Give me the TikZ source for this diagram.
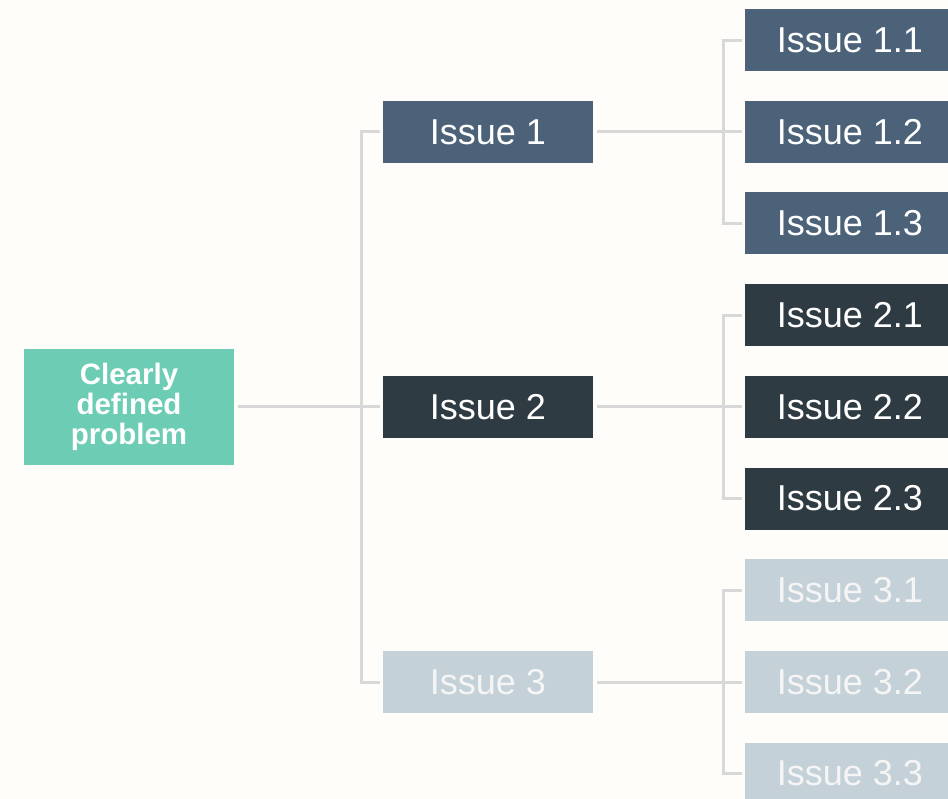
\documentclass[tikz,border=0pt]{standalone}
\usepackage{fontspec}
\setmainfont{Liberation Sans}
\definecolor{bgpaper}{HTML}{FEFDF9}
\definecolor{teal}{HTML}{6DCDB4}
\definecolor{slate}{HTML}{4B6278}
\definecolor{charcoal}{HTML}{2E3B42}
\definecolor{mist}{HTML}{C5D1D8}
\definecolor{wire}{HTML}{D8D8D8}
\begin{document}
\begin{tikzpicture}[x=1pt,y=-1pt,
  box/.style={rectangle, inner sep=0pt, minimum width=210pt, minimum height=62pt,
    text=white, font=\fontsize{36}{42}\selectfont},
  rootbox/.style={box, fill=teal, minimum height=116pt, align=center,
    font=\bfseries\fontsize{29.5}{30}\selectfont},
  lvA/.style={box, fill=slate},
  lvB/.style={box, fill=charcoal},
  lvC/.style={box, fill=mist, text=white!96!black},
  conn/.style={draw=wire, line width=3pt}]
\useasboundingbox (0,0) rectangle (948,799);
\fill[bgpaper] (0,0) rectangle (948,799);
\clip (0,0) rectangle (948,799);

% root and first level
\node[rootbox] (root) at (129,407) {Clearly\\defined\\problem};
\node[lvA] (i1) at (488,132) {Issue 1};
\node[lvB] (i2) at (488,407) {Issue 2};
\node[lvC] (i3) at (488,682) {Issue 3};

% second level
\node[lvA] (i11) at (850,40.5) {Issue 1.1};
\node[lvA] (i12) at (850,132) {Issue 1.2};
\node[lvA] (i13) at (850,223.5) {Issue 1.3};
\node[lvB] (i21) at (850,315.5) {Issue 2.1};
\node[lvB] (i22) at (850,407) {Issue 2.2};
\node[lvB] (i23) at (850,498.5) {Issue 2.3};
\node[lvC] (i31) at (850,590) {Issue 3.1};
\node[lvC] (i32) at (850,682) {Issue 3.2};
\node[lvC] (i33) at (850,773.5) {Issue 3.3};

% bus lines
\coordinate (b0) at (361,407);
\coordinate (b1) at (723,132);
\coordinate (b2) at (723,407);
\coordinate (b3) at (723,682);

\draw[conn] ([xshift=4pt]root.east |- b0) -- ([xshift=-3pt]i2.west);
\draw[conn] ([xshift=-3pt]i1.west) -| (b0) |- ([xshift=-3pt]i3.west);

\draw[conn] ([xshift=4pt]i1.east) -- ([xshift=-3pt]i12.west);
\draw[conn] ([xshift=-3pt]i11.west) -| (b1) |- ([xshift=-3pt]i13.west);

\draw[conn] ([xshift=4pt]i2.east) -- ([xshift=-3pt]i22.west);
\draw[conn] ([xshift=-3pt]i21.west) -| (b2) |- ([xshift=-3pt]i23.west);

\draw[conn] ([xshift=4pt]i3.east) -- ([xshift=-3pt]i32.west);
\draw[conn] ([xshift=-3pt]i31.west) -| (b3) |- ([xshift=-3pt]i33.west);
\end{tikzpicture}
\end{document}
